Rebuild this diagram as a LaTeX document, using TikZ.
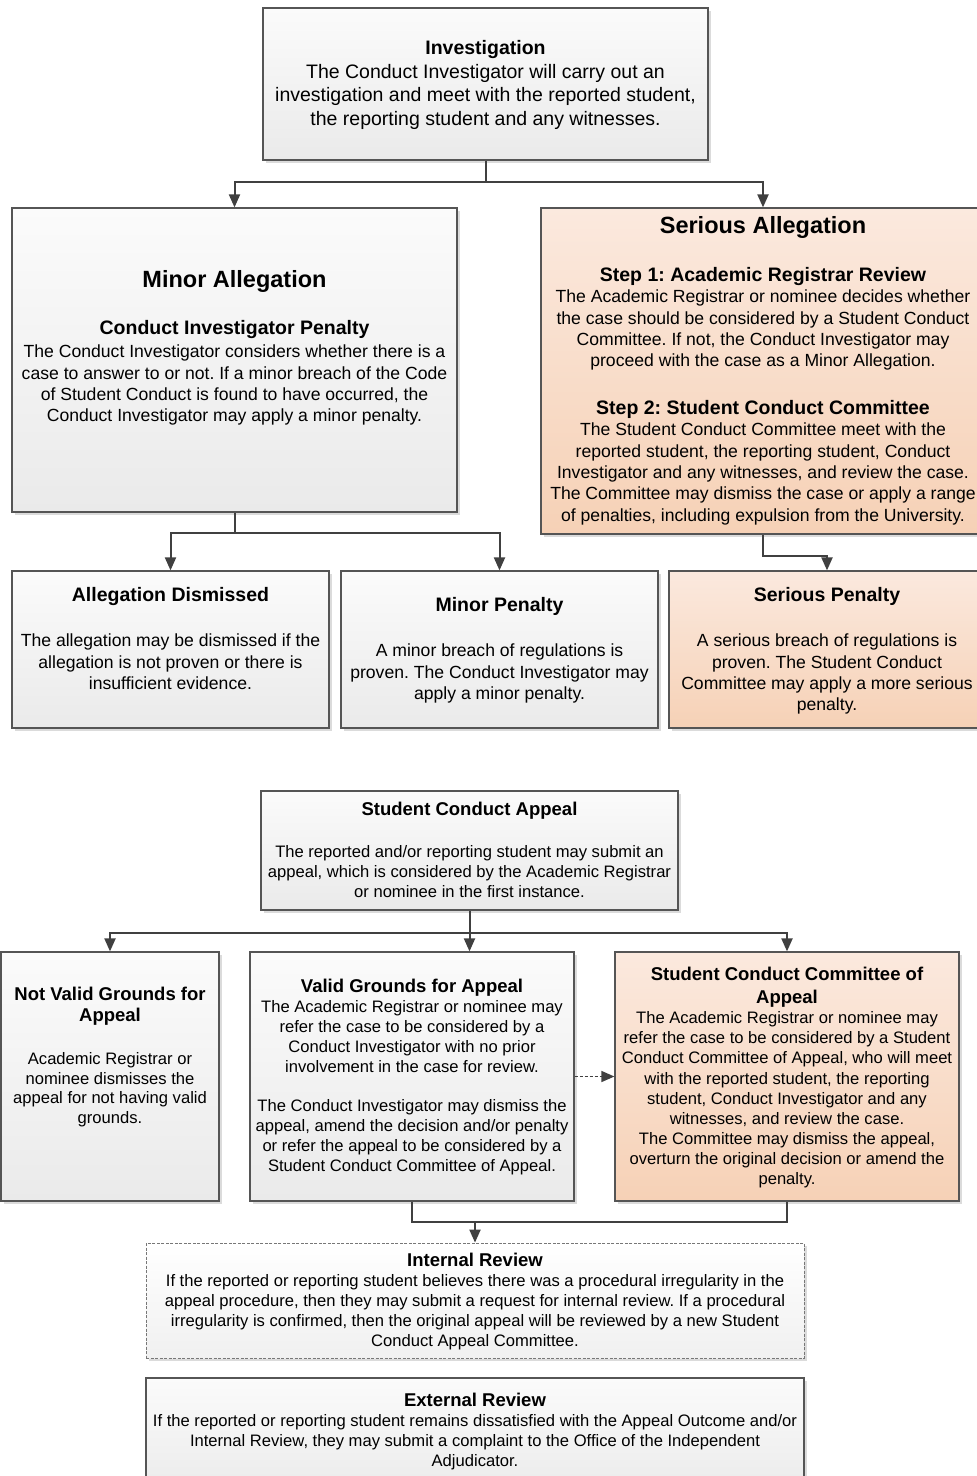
\documentclass[tikz,border=0pt]{standalone}
\usepackage{fontspec}
\setmainfont{Liberation Sans}
\usetikzlibrary{shadows,arrows.meta,calc}
\definecolor{boxline}{HTML}{555555}
\definecolor{conncol}{HTML}{404040}
\definecolor{greytop}{HTML}{FBFBFB}
\definecolor{greybot}{HTML}{EAEAEA}
\definecolor{ortop}{HTML}{FBE9DE}
\definecolor{orbot}{HTML}{F6D1B6}
\newcommand{\fs}[2]{\fontsize{#1}{#2}\selectfont}
\frenchspacing
\begin{document}
\begin{tikzpicture}[x=1pt,y=-1pt,
  box/.style={draw=boxline,line width=1.2pt,inner sep=0pt,
    drop shadow={shadow xshift=3pt,shadow yshift=-3pt,fill=black!14,opacity=1}},
  greybox/.style={box,top color=greytop,bottom color=greybot},
  orbox/.style={box,top color=ortop,bottom color=orbot},
  dashbox/.style={draw=boxline!80,line width=0.8pt,dash pattern=on 3pt off 1.5pt,inner sep=0pt,
    top color=white,bottom color=greybot!70,
    drop shadow={shadow xshift=3pt,shadow yshift=-3pt,fill=black!14,opacity=1}},
  conn/.style={draw=conncol,line width=2pt,-{Triangle[width=11pt,length=13pt]}},
  plain/.style={draw=conncol,line width=2pt},
  dconn/.style={draw=conncol,line width=1.4pt,dash pattern=on 3pt off 2pt,-{Triangle[width=11pt,length=13pt]}},
  txt/.style={align=center,inner sep=0pt,anchor=base,text=black},
  big/.style={txt,font=\bfseries\fs{23.5}{27}},
  sub/.style={txt,font=\bfseries\fs{19.5}{22}},
  body/.style={txt,font=\fs{17.6}{21.3}},
  stitle/.style={txt,font=\bfseries\fs{18.5}{21}},
  sbody/.style={txt,font=\fs{16.6}{20}}
]
\useasboundingbox (0,0) rectangle (977,1476);

% ---------- boxes ----------
\node[greybox,minimum width=445,minimum height=152] (inv) at (485.5,84) {};
\node[greybox,minimum width=445,minimum height=304] (minor) at (234.5,360) {};
\node[orbox,minimum width=444,minimum height=326] (serious) at (763,371) {};
\node[greybox,minimum width=317,minimum height=157] (dism) at (170.5,649.5) {};
\node[greybox,minimum width=317,minimum height=157] (mpen) at (499.5,649.5) {};
\node[orbox,minimum width=316,minimum height=157] (spen) at (827,649.5) {};
\node[greybox,minimum width=417,minimum height=119] (appeal) at (469.5,850.5) {};
\node[greybox,minimum width=218,minimum height=249] (notvalid) at (110,1076.5) {};
\node[greybox,minimum width=324,minimum height=249] (valid) at (412,1076.5) {};
\node[orbox,minimum width=344,minimum height=249] (scc) at (787,1076.5) {};
\node[dashbox,minimum width=658,minimum height=115] (internal) at (475,1300.5) {};
\node[greybox,minimum width=658,minimum height=120] (external) at (475,1438) {};

% ---------- texts (anchor = baseline of last line) ----------
\node[txt,font=\fs{19.5}{23.7}] (tinv) at (485.5,125.6) {\textbf{Investigation}\\The Conduct Investigator will carry out an\\investigation and meet with the reported student,\\the reporting student and any witnesses.};

\node[big] (tminor) at (234.5,287) {Minor Allegation};
\node[sub] (tcip) at (234.5,334.5) {Conduct Investigator Penalty};
\node[body] (bminor) at (234.5,421.7) {The Conduct Investigator considers whether there is a\\case to answer to or not. If a minor breach of the Code\\of Student Conduct is found to have occurred, the\\Conduct Investigator may apply a minor penalty.};

\node[big] (tser) at (763,233.8) {Serious Allegation};
\node[sub] (tstep1) at (763,281.5) {Step 1: Academic Registrar Review};
\node[body] (bstep1) at (763,366.7) {The Academic Registrar or nominee decides whether\\the case should be considered by a Student Conduct\\Committee. If not, the Conduct Investigator may\\proceed with the case as a Minor Allegation.};
\node[sub] (tstep2) at (763,414.5) {Step 2: Student Conduct Committee};
\node[body] (bstep2) at (763,521) {The Student Conduct Committee meet with the\\reported student, the reporting student, Conduct\\Investigator and any witnesses, and review the case.\\The Committee may dismiss the case or apply a range\\of penalties, including expulsion from the University.};

\node[sub] (tdism) at (170.5,601.5) {Allegation Dismissed};
\node[body] (bdism) at (170.5,689.4) {The allegation may be dismissed if the\\allegation is not proven or there is\\insufficient evidence.};
\node[sub] (tmpen) at (499.5,611.5) {Minor Penalty};
\node[body] (bmpen) at (499.5,699.4) {A minor breach of regulations is\\proven. The Conduct Investigator may\\apply a minor penalty.};
\node[sub] (tspen) at (827,601.5) {Serious Penalty};
\node[body] (bspen) at (827,710.7) {A serious breach of regulations is\\proven. The Student Conduct\\Committee may apply a more serious\\penalty.};

\node[stitle] (tappeal) at (469.5,815.1) {Student Conduct Appeal};
\node[sbody] (bappeal) at (469.5,897.5) {The reported and/or reporting student may submit an\\appeal, which is considered by the Academic Registrar\\or nominee in the first instance.};

\node[stitle] (tnv) at (110,1021.1) {Not Valid Grounds for\\Appeal};
\node[txt,font=\fs{16.6}{19.7}] (bnv) at (110,1123.6) {Academic Registrar or\\nominee dismisses the\\appeal for not having valid\\grounds.};

\node[stitle] (tvalid) at (412,992.1) {Valid Grounds for Appeal};
\node[sbody] (bvalid) at (412,1072.5) {The Academic Registrar or nominee may\\refer the case to be considered by a\\Conduct Investigator with no prior\\involvement in the case for review.};
\node[sbody] (bvalid2) at (412,1171.5) {The Conduct Investigator may dismiss the\\appeal, amend the decision and/or penalty\\or refer the appeal to be considered by a\\Student Conduct Committee of Appeal.};

\node[txt,font=\bfseries\fs{18.5}{23}] (tscc) at (787,1003.1) {Student Conduct Committee of\\Appeal};
\node[txt,font=\fs{16.6}{20.1}] (bscc) at (787,1184.5) {The Academic Registrar or nominee may\\refer the case to be considered by a Student\\Conduct Committee of Appeal, who will meet\\with the reported student, the reporting\\student, Conduct Investigator and any\\witnesses, and review the case.\\The Committee may dismiss the appeal,\\overturn the original decision or amend the\\penalty.};

\node[stitle] (tint) at (475,1266.1) {Internal Review};
\node[sbody] (bint) at (475,1346.5) {If the reported or reporting student believes there was a procedural irregularity in the\\appeal procedure, then they may submit a request for internal review. If a procedural\\irregularity is confirmed, then the original appeal will be reviewed by a new Student\\Conduct Appeal Committee.};

\node[stitle] (text) at (475,1406.1) {External Review};
\node[sbody] (bext) at (475,1466.5) {If the reported or reporting student remains dissatisfied with the Appeal Outcome and/or\\Internal Review, they may submit a complaint to the Office of the Independent\\Adjudicator.};

% ---------- connectors ----------
\coordinate (j1) at ($(inv.south)+(0,21)$);
\draw[plain] (inv.south) -- (j1);
\draw[conn] (j1) -| (minor.north);
\draw[conn] (j1) -| (serious.north);

\coordinate (j2) at ($(minor.south)+(0,20)$);
\draw[plain] (minor.south) -- (j2);
\draw[conn] (j2) -| (dism.north);
\draw[conn] (j2) -| (mpen.north);

\draw[conn] (serious.south) -- ++(0,21) -| (spen.north);

\coordinate (j3) at ($(appeal.south)+(0,22)$);
\draw[conn] (appeal.south) -- (appeal.south |- valid.north);
\draw[conn] (j3) -| (notvalid.north);
\draw[conn] (j3) -| (scc.north);

\draw[dconn] (valid.east) -- (scc.west);

\coordinate (j4) at ($(valid.south)+(0,20)$);
\draw[plain] (valid.south) -- (j4) -| (scc.south);
\draw[conn] (j4 -| internal.north) -- (internal.north);
\end{tikzpicture}
\end{document}
